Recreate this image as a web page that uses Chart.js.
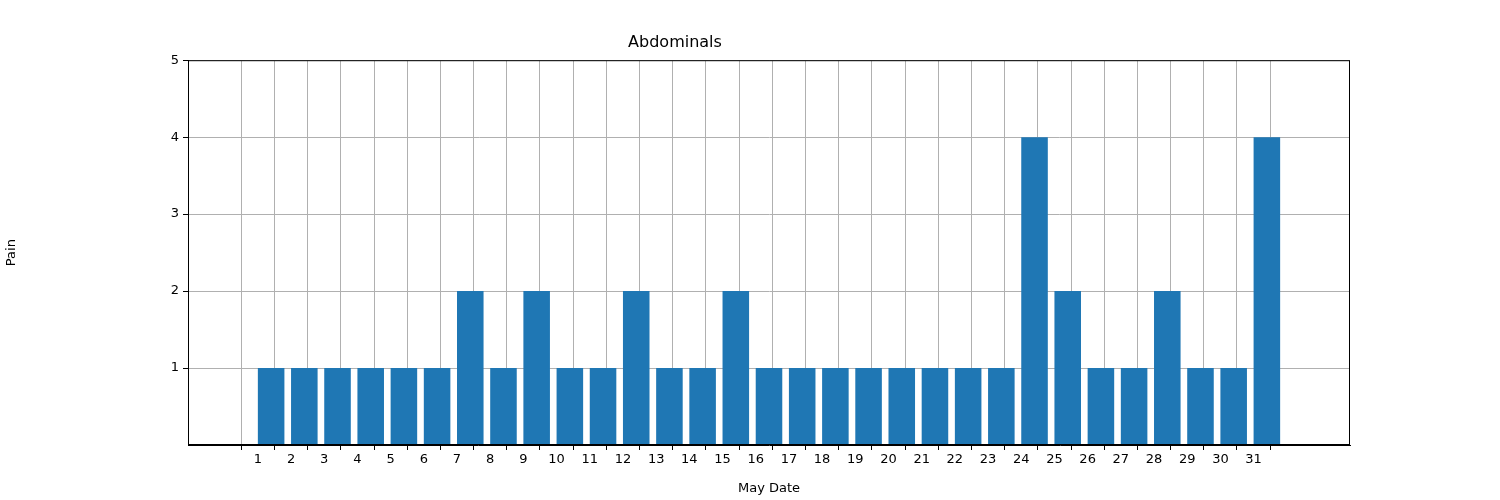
<!DOCTYPE html>
<html>
<head>
<meta charset="utf-8">
<script src="https://cdn.jsdelivr.net/npm/chart.js@4"></script>
<style>
  body { margin: 0; background: #fff; }
  #wrap { width: 1500px; height: 500px; }
</style>
</head>
<body>
<div id="wrap"><canvas id="chart" width="1500" height="500"></canvas></div>
<script>
// ====== Data ======
const days = [1, 2, 3, 4, 5, 6, 7, 8, 9, 10, 11, 12, 13, 14, 15, 16,
              17, 18, 19, 20, 21, 22, 23, 24, 25, 26, 27, 28, 29, 30, 31];
const pain = [1, 1, 1, 1, 1, 1, 2, 1, 2, 1, 1, 2, 1, 1, 2, 1,
              1, 1, 1, 1, 1, 1, 1, 4, 2, 1, 1, 2, 1, 1, 4];
const yTicks = [0, 1, 2, 3, 4, 5];

// bars start at the day value (edge aligned), 0.8 wide
const points = days.map((d, i) => ({ x: d + 0.4, y: pain[i] }));

const gridGrey = '#b0b0b0';
const font = { family: 'DejaVu Sans', size: 13 };

new Chart(document.getElementById('chart'), {
    type: 'bar',
    data: {
        datasets: [{
            data: points,
            backgroundColor: '#1f77b4',
            barPercentage: 0.8,
            categoryPercentage: 1.0
        }]
    },
    options: {
        responsive: false,
        animation: false,
        layout: { padding: { left: 0, right: 150, top: 0, bottom: 0 } },
        plugins: {
            legend: { display: false },
            tooltip: { enabled: false },
            title: {
                display: true,
                text: 'Abdominals',
                color: '#000',
                font: { family: 'DejaVu Sans', size: 16, weight: 'normal' },
                padding: { top: 33, bottom: 8 }
            }
        },
        scales: {
            x: {
                type: 'linear',
                min: -0.54,
                max: 33.34,
                afterBuildTicks: axis => { axis.ticks = days.map(v => ({ value: v })); },
                afterFit: axis => { axis.height = 55; },
                ticks: { color: '#000', font, autoSkip: false, maxRotation: 0, padding: 2,
                         callback: v => String(v) },
                grid: { color: gridGrey, tickColor: '#000', tickLength: 5 },
                border: { color: '#000' },
                title: { display: true, text: 'May Date', color: '#000', font, padding: { top: 2 } }
            },
            y: {
                min: 0,
                max: 5,
                afterBuildTicks: axis => { axis.ticks = yTicks.map(v => ({ value: v })); },
                afterFit: axis => { axis.width = 188; },
                ticks: { color: '#000', font, padding: 4,
                         callback: v => (v === 0 ? '' : String(v)) },
                grid: {
                    color: c => (c.tick && c.tick.value === 0 ? 'rgba(0,0,0,0)' : gridGrey),
                    tickColor: c => (c.tick && c.tick.value === 0 ? 'rgba(0,0,0,0)' : '#000'),
                    tickLength: 5
                },
                border: { color: '#000' },
                title: { display: true, text: 'Pain', color: '#000', font, padding: { bottom: 6 } }
            }
        }
    },
    plugins: [{
        id: 'frame',
        afterDraw(chart) {
            const { ctx, chartArea: a } = chart;
            ctx.save();
            ctx.strokeStyle = '#000';
            ctx.lineWidth = 1;
            ctx.strokeRect(a.left + 0.5, a.top + 0.5, a.right - a.left - 1, a.bottom - a.top - 1);
            ctx.restore();
        }
    }]
});
</script>
</body>
</html>
